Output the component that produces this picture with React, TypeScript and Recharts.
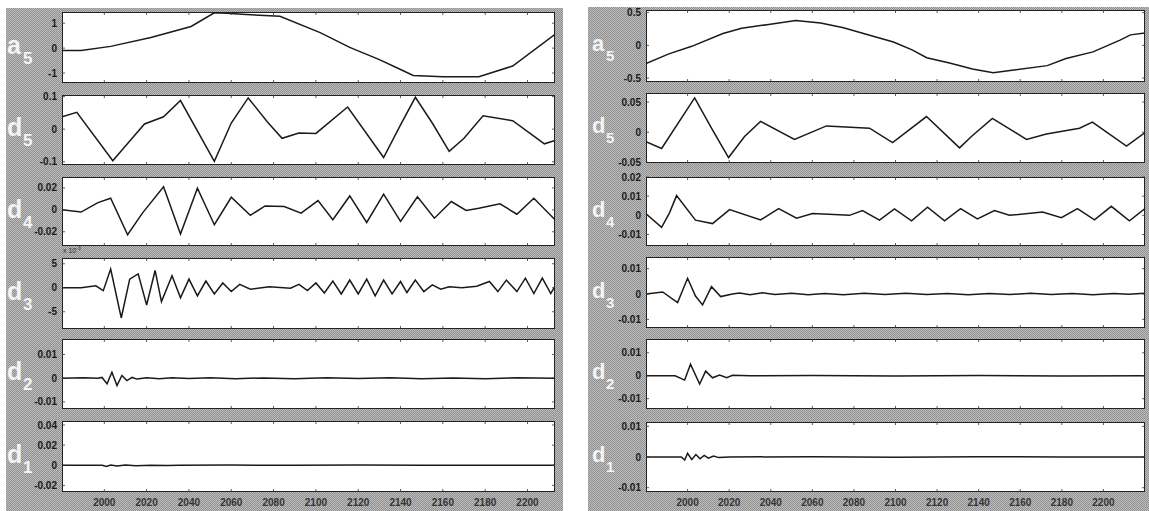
import React from 'react';
import { LineChart, Line, XAxis, YAxis } from 'recharts';

type P = [number, number];

const X_TICKS = [2000, 2020, 2040, 2060, 2080, 2100, 2120, 2140, 2160, 2180, 2200];
const LEFT_X_DOMAIN: P = [1980, 2213];
const RIGHT_X_DOMAIN: P = [1980, 2220];

// ---------- left column ----------
const L_A5: P[] = [[1980,-0.1],[1989,-0.1],[2003,0.07],[2022,0.43],[2041,0.87],[2052,1.42],[2058,1.4],[2067,1.35],[2083,1.28],[2102,0.62],[2116,0.03],[2130,-0.46],[2140,-0.86],[2146,-1.1],[2160,-1.15],[2177,-1.15],[2193,-0.72],[2213,0.55]];
const L_D5: P[] = [[1980,0.038],[1987,0.052],[2004,-0.097],[2011,-0.044],[2019,0.016],[2028,0.038],[2036,0.088],[2052,-0.099],[2060,0.019],[2068,0.096],[2077,0.023],[2084,-0.028],[2092,-0.012],[2100,-0.013],[2115,0.068],[2132,-0.087],[2140,0.013],[2147,0.098],[2155,0.019],[2163,-0.068],[2170,-0.028],[2179,0.041],[2193,0.026],[2208,-0.045],[2213,-0.035]];
const L_D4: P[] = [[1980,0],[1989,-0.002],[1997,0.0066],[2003,0.0106],[2011,-0.0227],[2018,-0.003],[2028,0.021],[2036,-0.022],[2044,0.0197],[2052,-0.0136],[2060,0.0115],[2069,-0.005],[2076,0.0036],[2085,0.003],[2093,-0.003],[2101,0.0085],[2108,-0.009],[2116,0.0127],[2124,-0.0115],[2132,0.0143],[2140,-0.0106],[2148,0.012],[2156,-0.0076],[2164,0.0076],[2171,-0.0006],[2177,0.0015],[2187,0.0055],[2195,-0.004],[2203,0.0106],[2213,-0.009]];
const L_D3: P[] = [[1980,0],[1989,0],[1996,0.4],[1999.5,-0.6],[2003,3.9],[2008,-6.3],[2012,1.8],[2016,2.9],[2020,-3.6],[2024,3.6],[2027,-2.9],[2032,2.5],[2036,-2.1],[2040,1.8],[2044,-1.7],[2048,1.4],[2052,-1.3],[2056,1.0],[2060,-0.8],[2064,0.7],[2069,-0.3],[2078,0.2],[2088,-0.1],[2092,0.7],[2096,-0.6],[2100,1.0],[2104,-1.1],[2108,1.4],[2112,-1.3],[2116,1.6],[2120,-1.3],[2124,1.8],[2128,-1.7],[2132,1.6],[2136,-1.3],[2140,1.3],[2143,-1.0],[2147,1.6],[2151,-0.8],[2155,0.6],[2159,-0.3],[2163,0.2],[2169,0],[2176,0.3],[2182,1.3],[2186,-0.8],[2190,1.6],[2195,-0.8],[2199,2.0],[2203,-1.2],[2207,2.0],[2211,-1.2],[2213,0.3]];
const L_D2: P[] = [[1980,0],[1990,0.0002],[1997,0],[1998.9,0.0003],[2001.3,-0.0024],[2003.6,0.0025],[2006,-0.0031],[2008.3,0.0011],[2010.7,-0.001],[2013.1,0.0003],[2015.4,-0.0004],[2020,0.0002],[2026,-0.0003],[2032,0.0002],[2040,-0.0001],[2050,0.0002],[2062,-0.0002],[2075,0.0001],[2090,-0.0002],[2105,0.0002],[2120,-0.0001],[2135,0.0002],[2150,-0.0002],[2165,0.0001],[2180,-0.0002],[2195,0.0002],[2213,0]];
const L_D1: P[] = [[1980,0],[1999,0],[2001,-0.0012],[2003,0.0003],[2006,-0.0008],[2010,0.0002],[2015,-0.0004],[2022,0.0001],[2030,-0.0003],[2035,0],[2060,0.0002],[2090,-0.0001],[2120,0.0002],[2150,-0.0001],[2180,0.0001],[2213,0]];

const L_A5_TICKS = [-1, 0, 1];
const L_D5_TICKS = [-0.1, 0, 0.1];
const L_D4_TICKS = [-0.02, 0, 0.02];
const L_D3_TICKS = [-5, 0, 5];
const L_D2_TICKS = [-0.01, 0, 0.01];
const L_D1_TICKS = [-0.02, 0, 0.02, 0.04];

const L_A5_DOMAIN: P = [-1.4, 1.45];
const L_D5_DOMAIN: P = [-0.11, 0.105];
const L_D4_DOMAIN: P = [-0.033, 0.03];
const L_D3_DOMAIN: P = [-8.6, 6.2];
const L_D2_DOMAIN: P = [-0.013, 0.0165];
const L_D1_DOMAIN: P = [-0.0266, 0.044];

// ---------- right column ----------
const R_A5: P[] = [[1980,-0.28],[1991,-0.13],[2002,-0.015],[2017,0.18],[2026,0.26],[2039,0.32],[2052,0.38],[2064,0.34],[2075,0.27],[2088,0.15],[2099,0.05],[2108,-0.07],[2115,-0.19],[2126,-0.27],[2137,-0.36],[2147,-0.42],[2156,-0.38],[2173,-0.31],[2182,-0.2],[2195,-0.1],[2208,0.08],[2213,0.16],[2220,0.19]];
const R_D5: P[] = [[1980,-0.0157],[1987.5,-0.027],[2003.4,0.057],[2011.5,0.0067],[2019.7,-0.042],[2027.4,-0.007],[2035.1,0.018],[2051.4,-0.012],[2066.8,0.0105],[2087.5,0.0067],[2098.6,-0.0173],[2114.9,0.026],[2130.8,-0.026],[2136.5,-0.007],[2146.6,0.023],[2163,-0.012],[2172.6,-0.003],[2188.5,0.0067],[2194.7,0.0167],[2211.1,-0.023],[2220,-0.0006]];
const R_D4: P[] = [[1980,0.0008],[1987.5,-0.0063],[1991.3,0.0013],[1994.7,0.0103],[2003.8,-0.0025],[2012,-0.0043],[2020.2,0.003],[2035.1,-0.0024],[2043.8,0.0035],[2052.4,-0.0015],[2060.1,0.001],[2077.9,0],[2084.1,0.0025],[2092.3,-0.0025],[2099.5,0.0034],[2107.7,-0.0029],[2115.4,0.0042],[2123.6,-0.0029],[2131.3,0.0035],[2139.4,-0.0019],[2147.6,0.0025],[2154.8,0],[2170.7,0.0017],[2179.8,-0.0012],[2187.5,0.0035],[2195.7,-0.0024],[2203.8,0.0047],[2212.5,-0.0029],[2220,0.0035]];
const R_D3: P[] = [[1980,0],[1988,0.0008],[1995.2,-0.0034],[2000,0.0062],[2003.8,-0.0008],[2007.2,-0.0043],[2011.5,0.0029],[2015.9,-0.001],[2021.6,0],[2025,0.0004],[2030,-0.0003],[2036,0.0005],[2042,-0.0002],[2050,0.0003],[2058,-0.0003],[2066,0.0002],[2075,-0.0003],[2085,0.0003],[2095,-0.0002],[2105,0.0003],[2115,-0.0002],[2125,0.0002],[2135,-0.0003],[2145,0.0002],[2155,-0.0002],[2165,0.0003],[2175,-0.0002],[2185,0.0002],[2195,-0.0003],[2205,0.0002],[2212,-0.0001],[2220,0.0003]];
const R_D2: P[] = [[1980,0],[1994,0],[1998.6,-0.0019],[2001.4,0.005],[2005.8,-0.0036],[2008.7,0.002],[2012,-0.0009],[2015.4,0.0003],[2018.8,-0.0009],[2021.6,0.0002],[2030,0],[2060,0.0001],[2100,-0.0001],[2140,0.0001],[2180,-0.0001],[2220,0]];
const R_D1: P[] = [[1980,0],[1997,0],[1998.6,-0.001],[2000,0.0012],[2002,-0.0008],[2004,0.0008],[2006,-0.0006],[2008,0.0005],[2010,-0.0004],[2012.5,0.0003],[2015,-0.0002],[2020,0],[2060,0.0001],[2100,-0.0001],[2140,0.0001],[2180,0],[2220,0]];

const R_A5_TICKS = [-0.5, 0, 0.5];
const R_D5_TICKS = [-0.05, 0, 0.05];
const R_D4_TICKS = [-0.01, 0, 0.01, 0.02];
const R_D3_TICKS = [-0.01, 0, 0.01];
const R_D2_TICKS = [-0.01, 0, 0.01];
const R_D1_TICKS = [-0.01, 0, 0.01];

const R_A5_DOMAIN: P = [-0.56, 0.54];
const R_D5_DOMAIN: P = [-0.051, 0.065];
const R_D4_DOMAIN: P = [-0.016, 0.02];
const R_D3_DOMAIN: P = [-0.0134, 0.0146];
const R_D2_DOMAIN: P = [-0.0145, 0.016];
const R_D1_DOMAIN: P = [-0.0114, 0.0114];

const ROW_LETTERS = ['a', 'd', 'd', 'd', 'd', 'd'];
const ROW_SUBS = ['5', '5', '4', '3', '2', '1'];

// ---------- layout ----------
const YW = 60;
const MT = 8;
const FONT = '"Liberation Sans", Arial, Helvetica, sans-serif';
const LEFT_X = 62;
const LEFT_W = 493;
const LEFT_TOPS = [12, 95, 177, 258, 339, 421];
const LEFT_HS = [71, 70, 69, 71, 70, 71];
const RIGHT_X = 646;
const RIGHT_W = 499;
const RIGHT_TOPS = [10, 93, 177, 257, 339, 422];
const RIGHT_HS = [72, 70, 69, 71, 70, 70];

const GRAY_BG = 'repeating-conic-gradient(#909090 0% 25%, #bdbdbd 0% 50%) 0 0 / 2px 2px';

function Sub({ left, top, width, height, xDomain, data, yDomain, yTicks, showX }: any) {
  const rows = data.map(([x, y]: P) => ({ x, y }));
  const XTick = (p: any) => (
    <g>
      <line x1={p.x} y1={MT} x2={p.x} y2={MT + 3} stroke="#333" strokeWidth={0.8} />
      <line x1={p.x} y1={MT + height - 3} x2={p.x} y2={MT + height} stroke="#333" strokeWidth={0.8} />
      {showX ? (
        <text x={p.x} y={MT + height + 14} textAnchor="middle" fontSize={10} fontWeight="bold" fill="#333" fontFamily={FONT}>
          {p.payload.value}
        </text>
      ) : null}
    </g>
  );
  const YTick = (p: any) => (
    <g>
      <line x1={YW} y1={p.y} x2={YW + 3} y2={p.y} stroke="#333" strokeWidth={0.8} />
      <line x1={YW + width - 3} y1={p.y} x2={YW + width} y2={p.y} stroke="#333" strokeWidth={0.8} />
      <text x={YW - 5} y={p.y + 3.5} textAnchor="end" fontSize={10} fontWeight="bold" fill="#1a1a1a" fontFamily={FONT}>
        {String(p.payload.value)}
      </text>
    </g>
  );
  return (
    <>
      <div style={{ position: 'absolute', left, top, width, height, background: '#fff', border: '1px solid #222', boxSizing: 'border-box' }} />
      <div style={{ position: 'absolute', left: left - YW, top: top - MT }}>
        <LineChart width={width + YW} height={height + 20 + MT} data={rows} margin={{ top: MT, right: 0, bottom: 0, left: 0 }}>
          <XAxis dataKey="x" type="number" domain={xDomain} ticks={X_TICKS} allowDataOverflow axisLine={false} tickLine={false} height={20} interval={0} tick={XTick} />
          <YAxis type="number" domain={yDomain} ticks={yTicks} allowDataOverflow axisLine={false} tickLine={false} width={YW} interval={0} tick={YTick} />
          <Line dataKey="y" type="linear" stroke="#1a1a1a" strokeWidth={1.5} dot={false} isAnimationActive={false} />
        </LineChart>
      </div>
    </>
  );
}

export default function App() {
  const leftData = [L_A5, L_D5, L_D4, L_D3, L_D2, L_D1];
  const leftTicks = [L_A5_TICKS, L_D5_TICKS, L_D4_TICKS, L_D3_TICKS, L_D2_TICKS, L_D1_TICKS];
  const leftDomains = [L_A5_DOMAIN, L_D5_DOMAIN, L_D4_DOMAIN, L_D3_DOMAIN, L_D2_DOMAIN, L_D1_DOMAIN];
  const rightData = [R_A5, R_D5, R_D4, R_D3, R_D2, R_D1];
  const rightTicks = [R_A5_TICKS, R_D5_TICKS, R_D4_TICKS, R_D3_TICKS, R_D2_TICKS, R_D1_TICKS];
  const rightDomains = [R_A5_DOMAIN, R_D5_DOMAIN, R_D4_DOMAIN, R_D3_DOMAIN, R_D2_DOMAIN, R_D1_DOMAIN];

  return (
    <div style={{ position: 'absolute', left: 0, top: 0, width: 1149, height: 511, background: '#fff', overflow: 'hidden', fontFamily: FONT }}>
      <div style={{ position: 'absolute', left: 6, top: 8, width: 557, height: 503, background: GRAY_BG }} />
      <div style={{ position: 'absolute', left: 588, top: 7, width: 561, height: 504, background: GRAY_BG }} />
      {leftData.map((d, i) => (
        <Sub key={'l' + i} left={LEFT_X} top={LEFT_TOPS[i]} width={LEFT_W} height={LEFT_HS[i]} xDomain={LEFT_X_DOMAIN} data={d} yDomain={leftDomains[i]} yTicks={leftTicks[i]} showX={i === 5} />
      ))}
      {rightData.map((d, i) => (
        <Sub key={'r' + i} left={RIGHT_X} top={RIGHT_TOPS[i]} width={RIGHT_W} height={RIGHT_HS[i]} xDomain={RIGHT_X_DOMAIN} data={d} yDomain={rightDomains[i]} yTicks={rightTicks[i]} showX={i === 5} />
      ))}
      <svg width={1149} height={511} style={{ position: 'absolute', left: 0, top: 0, pointerEvents: 'none' }}>
        {ROW_LETTERS.map((ch, i) => {
          const cy = LEFT_TOPS[i] + LEFT_HS[i] / 2;
          return (
            <g key={'ll' + i} fill="#f4f4f4" fontWeight="bold" fontFamily={FONT}>
              <text x={7} y={cy + 6} fontSize={25}>{ch}</text>
              <text x={23} y={cy + 16} fontSize={17}>{ROW_SUBS[i]}</text>
            </g>
          );
        })}
        {ROW_LETTERS.map((ch, i) => {
          const cy = RIGHT_TOPS[i] + RIGHT_HS[i] / 2;
          return (
            <g key={'rl' + i} fill="#f4f4f4" fontWeight="bold" fontFamily={FONT}>
              <text x={592} y={cy + 5} fontSize={22}>{ch}</text>
              <text x={606} y={cy + 15} fontSize={15}>{ROW_SUBS[i]}</text>
            </g>
          );
        })}
        <text x={63} y={253} fontSize={7} fill="#333" fontFamily={FONT}>
          x 10<tspan dy={-3} fontSize={5}>-3</tspan>
        </text>
      </svg>
    </div>
  );
}
